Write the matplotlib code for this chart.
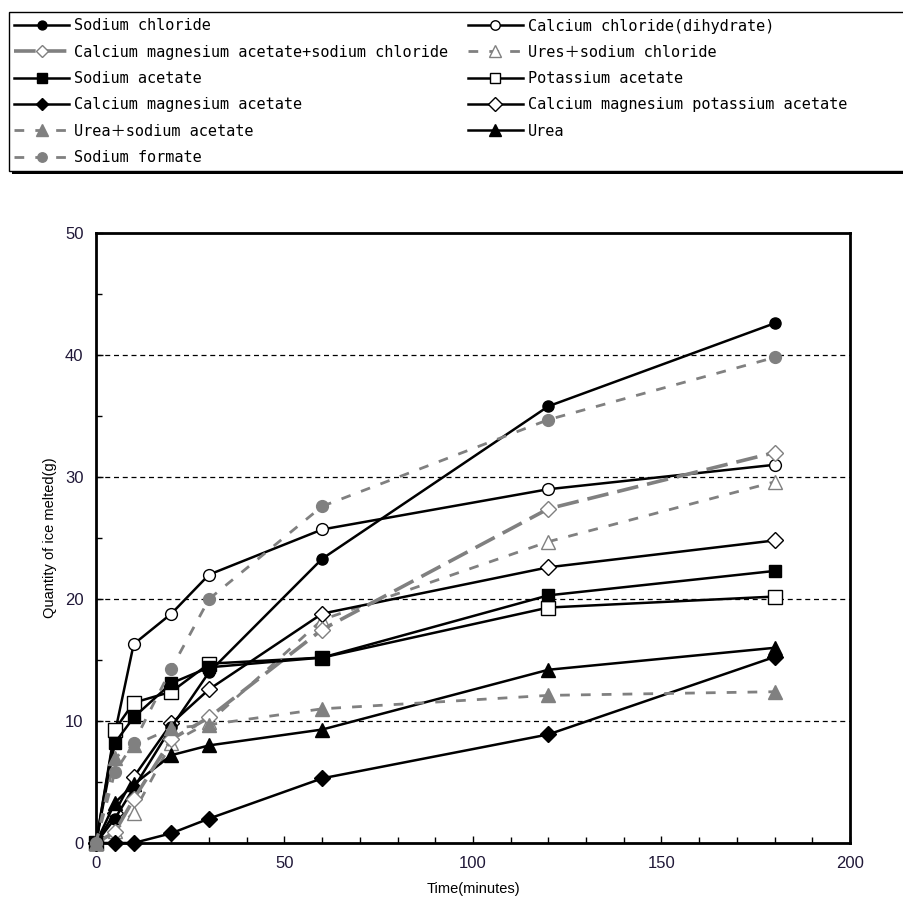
import matplotlib

matplotlib.use("Agg")
import matplotlib.pyplot as plt
from matplotlib.patches import Rectangle

# sampling times (minutes) shared by every series
TIMES = [0, 5, 10, 20, 30, 60, 120, 180]

SODIUM_CHLORIDE = [0, 2.0, 4.5, 9.5, 14.0, 23.3, 35.8, 42.6]
CALCIUM_CHLORIDE = [0, 9.0, 16.3, 18.8, 22.0, 25.7, 29.0, 31.0]
CMA_NACL = [0, 0.9, 3.6, 8.5, 10.3, 17.5, 27.4, 32.0]
UREA_NACL = [0, 1.0, 2.5, 8.2, 9.9, 18.3, 24.7, 29.6]
SODIUM_ACETATE = [0, 8.2, 10.3, 13.1, 14.4, 15.2, 20.3, 22.3]
POTASSIUM_ACETATE = [0, 9.3, 11.5, 12.4, 14.7, 15.2, 19.3, 20.2]
CMA = [0, 0, 0, 0.8, 2.0, 5.3, 8.9, 15.25]
CMPA = [0, 2.5, 5.4, 9.8, 12.6, 18.8, 22.6, 24.8]
UREA_NACETATE = [0, 7.0, 8.0, 9.4, 9.7, 11.0, 12.1, 12.4]
UREA = [0, 3.3, 4.8, 7.2, 8.0, 9.3, 14.2, 16.0]
SODIUM_FORMATE = [0, 5.8, 8.2, 14.3, 20.0, 27.6, 34.7, 39.8]

GREY = "#808080"
SOLID = dict(color="black", lw=1.8, ls="-")
DOTTED = dict(color=GREY, lw=2.0, ls=(0, (3.5, 4)))

LEFT_COLUMN = [
    ("Sodium chloride", SODIUM_CHLORIDE, SOLID, dict(marker="o", ms=8, mfc="black", mec="black")),
    ("Calcium magnesium acetate+sodium chloride", CMA_NACL,
     dict(color=GREY, lw=2.6, ls=(0, (6, 2.5))), dict(marker="D", ms=8, mfc="white", mec=GREY)),
    ("Sodium acetate", SODIUM_ACETATE, SOLID, dict(marker="s", ms=9, mfc="black", mec="black")),
    ("Calcium magnesium acetate", CMA, SOLID, dict(marker="D", ms=8, mfc="black", mec="black")),
    ("Urea\uff0bsodium acetate", UREA_NACETATE, DOTTED, dict(marker="^", ms=10, mfc=GREY, mec=GREY)),
    ("Sodium formate", SODIUM_FORMATE, DOTTED, dict(marker="o", ms=8.5, mfc=GREY, mec=GREY)),
]
RIGHT_COLUMN = [
    ("Calcium chloride(dihydrate)", CALCIUM_CHLORIDE, SOLID, dict(marker="o", ms=8.5, mfc="white", mec="black")),
    ("Ures\uff0bsodium chloride", UREA_NACL, DOTTED, dict(marker="^", ms=10, mfc="white", mec=GREY)),
    ("Potassium acetate", POTASSIUM_ACETATE, SOLID, dict(marker="s", ms=9.5, mfc="white", mec="black")),
    ("Calcium magnesium potassium acetate", CMPA, SOLID, dict(marker="D", ms=8.5, mfc="white", mec="black")),
    ("Urea", UREA, SOLID, dict(marker="^", ms=10, mfc="black", mec="black")),
]

TICK_FONT = ["Liberation Sans", "DejaVu Sans"]
LEGEND_FONT = ["DejaVu Sans Mono", "Noto Sans CJK JP"]
W, H = 904, 905

fig = plt.figure(figsize=(W / 100, H / 100), dpi=100)
ax = fig.add_axes([96 / W, 62 / H, 754 / W, 610 / H])

# right column drawn first so sodium formate ends up on top at the origin
columns = {}
for name, group in (("right", RIGHT_COLUMN), ("left", LEFT_COLUMN)):
    handles = []
    for label, values, line, marker in group:
        (h,) = ax.plot(TIMES, values, label=label, clip_on=False, mew=1.0, zorder=3, **line, **marker)
        handles.append(h)
    columns[name] = handles

ax.set_xlim(0, 200)
ax.set_ylim(0, 50)
ax.set_xticks(range(0, 201, 50))
ax.set_xticks(range(0, 201, 10), minor=True)
ax.set_yticks(range(0, 51, 10))
ax.set_yticks(range(0, 51, 5), minor=True)
ax.tick_params(which="both", direction="in", width=1.0, color="black", labelsize=12)
ax.tick_params(which="major", length=5, pad=9)
ax.tick_params(which="minor", length=4)
for tick in ax.get_xticklabels() + ax.get_yticklabels():
    tick.set_family(TICK_FONT)
    tick.set_color("#201838")
for y in (10, 20, 30, 40):
    ax.axhline(y, color="black", lw=0.9, ls=(0, (4, 3)), zorder=1)
for spine in ax.spines.values():
    spine.set_linewidth(2.0)
ax.set_xlabel("Time(minutes)", family=TICK_FONT, fontsize=10.5, labelpad=8)
ax.set_ylabel("Quantity of ice melted(g)", family=TICK_FONT, fontsize=10.5, labelpad=6)

# legend box spans the full width, with a hard black drop shadow
fig.patches.append(Rectangle((12 / W, 1 - 174 / H), 900 / W, 160 / H, transform=fig.transFigure,
                             facecolor="black", edgecolor="black", lw=0, zorder=0))
fig.patches.append(Rectangle((9 / W, 1 - 171 / H), 910 / W, 159 / H, transform=fig.transFigure,
                             facecolor="white", edgecolor="black", lw=1.0, zorder=0.5))

for name, x0 in (("left", 14), ("right", 468)):
    fig.legend(handles=columns[name], loc="upper left", bbox_to_anchor=(x0 / W, 1 - 18.5 / H),
               borderaxespad=0, borderpad=0, frameon=False, markerscale=0.8,
               handlelength=3.6, handletextpad=0.3, labelspacing=0.74,
               prop={"family": LEGEND_FONT, "size": 11})

fig.savefig("out.png", dpi=100, facecolor="white")
